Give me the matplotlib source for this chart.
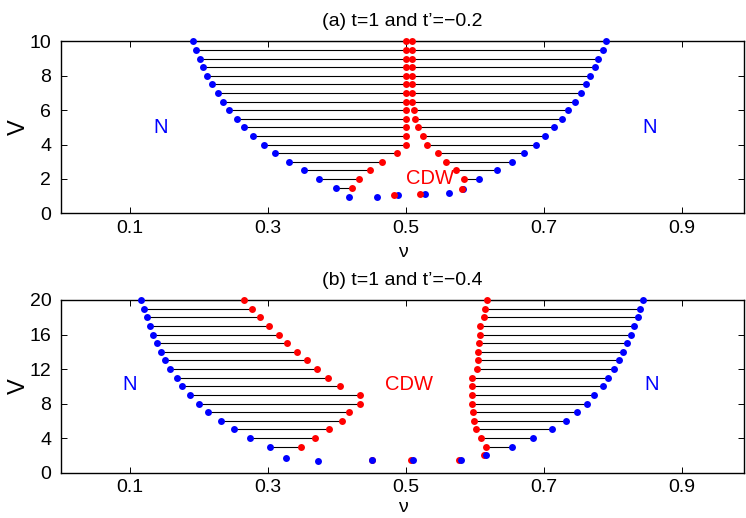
import matplotlib
matplotlib.use("Agg")
import matplotlib.pyplot as plt

plt.rcParams['font.family'] = ['Liberation Sans', 'DejaVu Sans']

# ---- panel (a): t=1, t'=-0.2 ----
V_a = [10, 9.5, 9, 8.5, 8, 7.5, 7, 6.5, 6, 5.5, 5, 4.5, 4, 3.5, 3, 2.5, 2, 1.5]
a_left_blue = [0.191, 0.196, 0.201, 0.2065, 0.212, 0.219, 0.227, 0.2345, 0.244,
               0.255, 0.265, 0.278, 0.294, 0.310, 0.330, 0.3515, 0.374, 0.399]
a_left_red = [0.500, 0.500, 0.500, 0.500, 0.500, 0.500, 0.500, 0.500, 0.500,
              0.500, 0.500, 0.500, 0.500, 0.487, 0.4655, 0.448, 0.432, 0.4225]
V_a_right = [10, 9.5, 9, 8.5, 8, 7.5, 7, 6.5, 6, 5.5, 5, 4.5, 4, 3.5, 3, 2.5, 2]
a_right_red = [0.509, 0.509, 0.509, 0.509, 0.509, 0.509, 0.509, 0.509, 0.5115,
               0.5135, 0.518, 0.524, 0.531, 0.5465, 0.558, 0.573, 0.584]
a_right_blue = [0.7905, 0.785, 0.779, 0.7735, 0.767, 0.761, 0.7535, 0.7455, 0.7355,
                0.726, 0.714, 0.7015, 0.6885, 0.6715, 0.6535, 0.6325, 0.606]
# loose points near the bottom
a_extra_blue_x = [0.418, 0.4575, 0.489, 0.527, 0.563, 0.583]
a_extra_blue_v = [0.95, 0.95, 1.05, 1.14, 1.2, 1.4]
a_extra_red_x = [0.482, 0.520, 0.581]
a_extra_red_v = [1.05, 1.14, 1.4]

# ---- panel (b): t=1, t'=-0.4 ----
V_b = [20, 19, 18, 17, 16, 15, 14, 13, 12, 11, 10, 9, 8, 7, 6, 5, 4, 3]
b_left_blue = [0.1165, 0.120, 0.1245, 0.1285, 0.133, 0.1385, 0.145, 0.151, 0.1585,
               0.1675, 0.176, 0.187, 0.200, 0.213, 0.2315, 0.2505, 0.2745, 0.3025]
b_left_red = [0.2655, 0.2765, 0.2885, 0.302, 0.3155, 0.328, 0.3415, 0.356, 0.371,
              0.3865, 0.4045, 0.434, 0.434, 0.418, 0.4075, 0.388, 0.3685, 0.3485]
b_right_red = [0.618, 0.6145, 0.6135, 0.608, 0.607, 0.606, 0.605, 0.604, 0.603,
               0.596, 0.5955, 0.5955, 0.5955, 0.597, 0.598, 0.601, 0.609, 0.6155]
b_right_blue = [0.8435, 0.8395, 0.836, 0.831, 0.8255, 0.821, 0.815, 0.8085, 0.802,
                0.793, 0.785, 0.7725, 0.762, 0.7485, 0.7315, 0.7115, 0.684, 0.654]
b_extra_red_x = [0.4505, 0.507, 0.5775, 0.6125]
b_extra_red_v = [1.5, 1.5, 1.5, 2.0]
b_extra_blue_x = [0.3265, 0.3725, 0.4515, 0.5105, 0.580, 0.6165]
b_extra_blue_v = [1.67, 1.32, 1.5, 1.5, 1.5, 2.0]

xticks = [0.1, 0.3, 0.5, 0.7, 0.9]
xtick_labels = ['0.1', '0.3', '0.5', '0.7', '0.9']

BLUE = (0, 0, 1)
RED = (1, 0, 0)
MS = 5


def style_axes(ax, ymax, yticks, title, xpad):
    ax.set_xlim(0, 0.99)
    ax.set_ylim(0, ymax)
    ax.set_xticks(xticks)
    ax.set_xticklabels(xtick_labels)
    ax.set_yticks(yticks)
    ax.tick_params(direction='in', top=True, right=True, length=4, width=0.7,
                   labelsize=14)
    ax.tick_params(axis='x', pad=4.5)
    ax.tick_params(axis='y', pad=7)
    for s in ax.spines.values():
        s.set_linewidth(1.0)
    ax.set_xlabel('ν', fontsize=14, labelpad=xpad)
    ax.set_ylabel('V', fontsize=17)
    ax.yaxis.set_label_coords(-0.045, 0.5)
    ax.set_title(title, fontsize=14, pad=11)


def dots(ax, x, v, c):
    ax.plot(x, v, 'o', color=c, ms=MS, mew=0, clip_on=False, zorder=3)


fig = plt.figure(figsize=(7.46, 5.18), dpi=100)
ax1 = fig.add_axes([0.0818, 0.5882, 0.9155, 0.332])
ax2 = fig.add_axes([0.0818, 0.0875, 0.9155, 0.3334])

# panel (a)
ax1.hlines(V_a, a_left_blue, a_left_red, colors='k', lw=0.8, zorder=2)
ax1.hlines(V_a_right, a_right_red, a_right_blue, colors='k', lw=0.8, zorder=2)
dots(ax1, a_left_red, V_a, RED)
dots(ax1, a_right_red, V_a_right, RED)
dots(ax1, a_left_blue, V_a, BLUE)
dots(ax1, a_right_blue, V_a_right, BLUE)
dots(ax1, a_extra_blue_x, a_extra_blue_v, BLUE)
dots(ax1, a_extra_red_x, a_extra_red_v, RED)
ax1.text(0.1445, 5.0, 'N', color=BLUE, fontsize=14.5, ha='center', va='center')
ax1.text(0.8525, 5.0, 'N', color=BLUE, fontsize=14.5, ha='center', va='center')
ax1.text(0.5348, 2.0, 'CDW', color=RED, fontsize=14.5, ha='center', va='center')
style_axes(ax1, 10, [0, 2, 4, 6, 8, 10], '(a) t=1 and t’=−0.2', 5)

# panel (b)
ax2.hlines(V_b, b_left_blue, b_left_red, colors='k', lw=0.8, zorder=2)
ax2.hlines(V_b, b_right_red, b_right_blue, colors='k', lw=0.8, zorder=2)
dots(ax2, b_left_red, V_b, RED)
dots(ax2, b_right_red, V_b, RED)
dots(ax2, b_left_blue, V_b, BLUE)
dots(ax2, b_right_blue, V_b, BLUE)
dots(ax2, b_extra_red_x, b_extra_red_v, RED)
dots(ax2, b_extra_blue_x, b_extra_blue_v, BLUE)
ax2.text(0.0995, 10.2, 'N', color=BLUE, fontsize=14.5, ha='center', va='center')
ax2.text(0.8554, 10.2, 'N', color=BLUE, fontsize=14.5, ha='center', va='center')
ax2.text(0.5043, 10.2, 'CDW', color=RED, fontsize=14.5, ha='center', va='center')
style_axes(ax2, 20, [0, 4, 8, 12, 16, 20], '(b) t=1 and t’=−0.4', 2.5)

fig.savefig('out.png', dpi=100)
